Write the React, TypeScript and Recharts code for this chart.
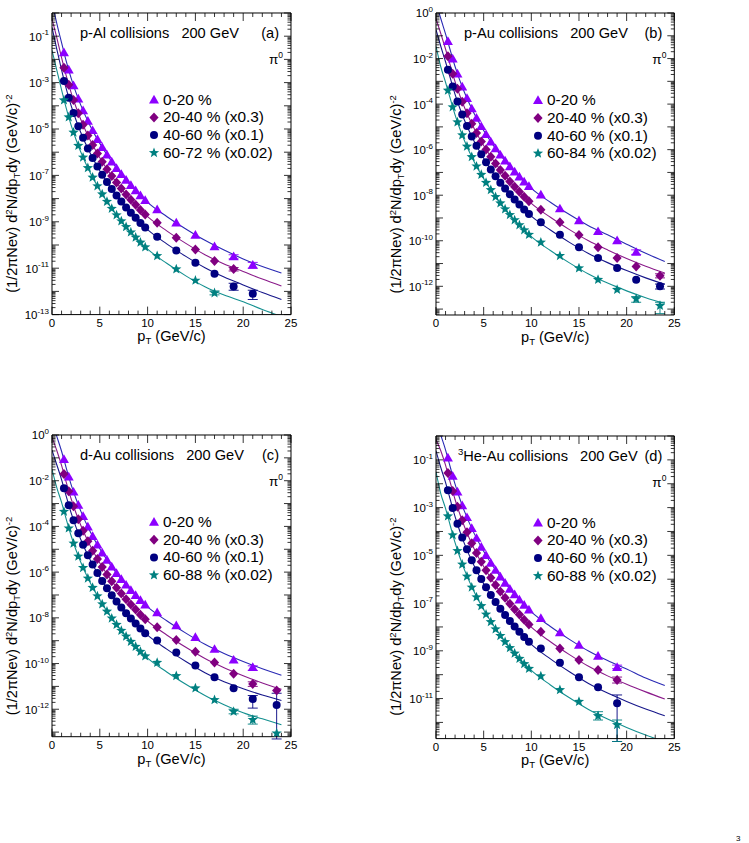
import React from "react";
import { ComposedChart, Line, Scatter, XAxis, YAxis, ErrorBar } from "recharts";

const FONT = '"Liberation Sans", Arial, Helvetica, sans-serif';

// pT bin centres (GeV/c) used by every data set
const PT_BINS = [
  1.25, 1.75, 2.25, 2.75, 3.25, 3.75, 4.25, 4.75, 5.25, 5.75, 6.25, 6.75, 7.25,
  7.75, 8.25, 8.75, 9.25, 9.75, 11, 13, 15, 17, 19, 21, 23.5,
];
// pT nodes of the fitted curves
const FIT_PT = [0, 0.5, 1, 1.5, 2, 2.5, 3, 4, 5, 6, 7, 8, 9, 10, 12, 14, 16, 18, 20, 22, 24];

const X_TICKS = Array.from({ length: 26 }, (_, i) => i);
const EXP_ODD = [-1, -3, -5, -7, -9, -11, -13];
const EXP_EVEN = [0, -2, -4, -6, -8, -10, -12];

// All yields below are log10 of (1/2πNev) d²N/dpTdy, null = no measurement.

// ---- p-Al ----
const pAl_0020 = [-1.70, -2.45, -3.13, -3.70, -4.20, -4.66, -5.06, -5.44, -5.79, -6.11, -6.41, -6.69, -6.95, -7.20, -7.43, -7.65, -7.87, -8.07, -8.47, -9.04, -9.57, -10.07, -10.50, -10.86, null];
const pAl_2040 = [-2.36, -3.09, -3.75, -4.32, -4.82, -5.28, -5.69, -6.06, -6.41, -6.73, -7.03, -7.31, -7.57, -7.82, -8.05, -8.27, -8.49, -8.69, -9.04, -9.69, -10.19, -10.69, -11.04, null, null];
const pAl_4060 = [-2.93, -3.65, -4.31, -4.88, -5.38, -5.84, -6.25, -6.62, -6.97, -7.29, -7.59, -7.87, -8.13, -8.38, -8.61, -8.83, -9.05, -9.25, -9.64, -10.24, -10.76, -11.24, -11.79, -12.10, null];
const pAl_6072 = [-3.76, -4.49, -5.15, -5.72, -6.22, -6.68, -7.09, -7.46, -7.81, -8.13, -8.43, -8.71, -8.97, -9.22, -9.45, -9.67, -9.89, -10.09, -10.47, -11.04, -11.53, -12.07, null, null, null];
const pAl_fit0020 = [0.50, -0.45, -1.28, -2.10, -2.81, -3.42, -3.96, -4.87, -5.62, -6.26, -6.82, -7.32, -7.76, -8.16, -8.77, -9.31, -9.80, -10.22, -10.60, -10.93, -11.21];
const pAl_fit2040 = [-0.25, -1.06, -1.92, -2.72, -3.43, -4.04, -4.58, -5.49, -6.24, -6.88, -7.44, -7.94, -8.38, -8.78, -9.39, -9.93, -10.42, -10.82, -11.14, -11.47, -11.77];
const pAl_fit4060 = [-0.62, -1.56, -2.45, -3.28, -3.99, -4.60, -5.14, -6.05, -6.80, -7.44, -8.00, -8.50, -8.94, -9.34, -9.95, -10.49, -10.98, -11.38, -11.72, -12.05, -12.35];
const pAl_fit6072 = [-1.61, -2.46, -3.31, -4.12, -4.83, -5.44, -5.98, -6.89, -7.64, -8.28, -8.84, -9.34, -9.78, -10.18, -10.79, -11.33, -11.80, -12.16, -12.45, -12.78, -13.08];
// error bars: [pT, low, high] in log10
const pAl_err = [
  [[19, -10.6, -10.42], [21, -11.0, -10.75]],
  [[19, -11.12, -10.97]],
  [[19, -11.95, -11.65], [21, -12.35, -11.95]],
  [[17, -12.15, -11.98]],
];

// ---- p-Au ----
const pAu_0020 = [-1.24, -2.01, -2.67, -3.24, -3.74, -4.20, -4.61, -4.98, -5.33, -5.65, -5.95, -6.23, -6.49, -6.74, -6.97, -7.19, -7.41, -7.61, -7.98, -8.59, -9.11, -9.59, -9.99, -10.50, null];
const pAu_2040 = [-1.90, -2.67, -3.33, -3.90, -4.40, -4.86, -5.27, -5.64, -5.99, -6.31, -6.61, -6.89, -7.15, -7.40, -7.63, -7.85, -8.07, -8.27, -8.64, -9.19, -9.75, -10.28, -10.76, -11.13, -11.54];
const pAu_4060 = [-2.49, -3.23, -3.89, -4.46, -4.96, -5.42, -5.83, -6.20, -6.55, -6.87, -7.17, -7.45, -7.71, -7.96, -8.19, -8.41, -8.63, -8.83, -9.19, -9.74, -10.29, -10.76, -11.20, -11.71, -12.00];
const pAu_6084 = [-3.40, -4.13, -4.79, -5.36, -5.86, -6.32, -6.73, -7.10, -7.45, -7.77, -8.07, -8.35, -8.61, -8.86, -9.09, -9.31, -9.53, -9.73, -10.07, -10.66, -11.20, -11.71, -12.15, -12.55, -12.85];
const pAu_fit0020 = [0.46, -0.24, -0.92, -1.64, -2.35, -2.96, -3.50, -4.41, -5.16, -5.80, -6.36, -6.86, -7.30, -7.70, -8.31, -8.85, -9.34, -9.74, -10.15, -10.55, -10.91];
const pAu_fit2040 = [-0.25, -0.90, -1.58, -2.30, -3.01, -3.62, -4.16, -5.07, -5.82, -6.46, -7.02, -7.52, -7.96, -8.36, -8.97, -9.51, -10.00, -10.40, -10.78, -11.12, -11.42];
const pAu_fit4060 = [-0.73, -1.46, -2.14, -2.86, -3.57, -4.18, -4.72, -5.63, -6.38, -7.02, -7.58, -8.08, -8.52, -8.92, -9.53, -10.07, -10.56, -10.96, -11.31, -11.63, -11.91];
const pAu_fit6084 = [-1.46, -2.36, -3.04, -3.76, -4.47, -5.08, -5.62, -6.53, -7.28, -7.92, -8.48, -8.98, -9.42, -9.82, -10.43, -10.97, -11.46, -11.86, -12.20, -12.50, -12.75];
const pAu_err = [
  [[21, -10.6, -10.4]],
  [[23.5, -11.63, -11.45]],
  [[23.5, -12.12, -11.9]],
  [[21, -12.7, -12.45], [23.5, -13.2, -12.7]],
];

// ---- d-Au ----
const dAu_0020 = [-1.06, -1.83, -2.49, -3.06, -3.56, -4.02, -4.43, -4.80, -5.15, -5.47, -5.77, -6.05, -6.31, -6.56, -6.79, -7.01, -7.23, -7.43, -7.77, -8.34, -8.85, -9.37, -9.84, -10.16, null];
const dAu_2040 = [-1.71, -2.46, -3.12, -3.69, -4.19, -4.65, -5.06, -5.43, -5.78, -6.10, -6.40, -6.68, -6.94, -7.19, -7.42, -7.64, -7.86, -8.06, -8.41, -8.97, -9.48, -9.95, -10.45, -10.89, -11.18];
const dAu_4060 = [-2.33, -3.07, -3.73, -4.30, -4.80, -5.26, -5.67, -6.04, -6.39, -6.71, -7.01, -7.29, -7.55, -7.80, -8.03, -8.25, -8.47, -8.67, -8.99, -9.52, -10.09, -10.60, -11.08, -11.55, -11.81];
const dAu_6088 = [-3.35, -4.08, -4.74, -5.31, -5.81, -6.27, -6.68, -7.05, -7.40, -7.72, -8.02, -8.30, -8.56, -8.81, -9.04, -9.26, -9.48, -9.68, -9.96, -10.54, -11.08, -11.59, -12.10, -12.46, -13.05];
const dAu_fit0020 = [0.59, -0.06, -0.71, -1.46, -2.17, -2.78, -3.32, -4.23, -4.98, -5.62, -6.18, -6.68, -7.12, -7.52, -8.13, -8.67, -9.16, -9.56, -9.91, -10.23, -10.51];
const dAu_fit2040 = [-0.10, -0.68, -1.33, -2.08, -2.79, -3.40, -3.94, -4.85, -5.60, -6.24, -6.80, -7.30, -7.74, -8.14, -8.75, -9.29, -9.78, -10.18, -10.53, -10.85, -11.13];
const dAu_fit4060 = [-0.66, -1.30, -1.95, -2.70, -3.41, -4.02, -4.56, -5.47, -6.22, -6.86, -7.42, -7.92, -8.36, -8.76, -9.37, -9.91, -10.40, -10.80, -11.10, -11.38, -11.62];
const dAu_fit6088 = [-1.50, -2.30, -2.95, -3.70, -4.41, -5.02, -5.56, -6.47, -7.22, -7.86, -8.42, -8.92, -9.36, -9.76, -10.37, -10.91, -11.40, -11.80, -12.15, -12.42, -12.68];
const dAu_err = [
  [[21, -10.3, -10.1]],
  [[21, -11.0, -10.8]],
  [[21, -11.95, -11.4], [23.5, -13.3, -11.3]],
  [[19, -12.2, -12.0], [21, -12.65, -12.3]],
];

// ---- 3He-Au ----
const heAu_0020 = [-0.91, -1.68, -2.34, -2.91, -3.41, -3.87, -4.28, -4.65, -5.00, -5.32, -5.62, -5.90, -6.16, -6.41, -6.64, -6.86, -7.08, -7.28, -7.64, -8.23, -8.76, -9.22, -9.69, null, null];
const heAu_2040 = [-1.55, -2.30, -2.96, -3.53, -4.03, -4.49, -4.90, -5.27, -5.62, -5.94, -6.24, -6.52, -6.78, -7.03, -7.26, -7.48, -7.70, -7.90, -8.20, -8.90, -9.39, -9.80, -10.22, null, null];
const heAu_4060 = [-2.27, -3.02, -3.68, -4.25, -4.75, -5.21, -5.62, -5.99, -6.34, -6.66, -6.96, -7.24, -7.50, -7.75, -7.98, -8.20, -8.42, -8.62, -8.90, -9.50, -10.11, -10.53, -11.20, null, null];
const heAu_6088 = [-3.36, -4.15, -4.81, -5.38, -5.88, -6.34, -6.75, -7.12, -7.47, -7.79, -8.09, -8.37, -8.63, -8.88, -9.11, -9.33, -9.55, -9.75, -10.06, -10.64, -11.13, -11.73, -12.10, null, null];
const heAu_fit0020 = [0.69, 0.04, -0.58, -1.31, -2.02, -2.63, -3.17, -4.08, -4.83, -5.47, -6.03, -6.53, -6.97, -7.37, -7.98, -8.52, -9.01, -9.41, -9.76, -10.14, -10.45];
const heAu_fit2040 = [-0.15, -0.62, -1.22, -1.95, -2.66, -3.27, -3.81, -4.72, -5.47, -6.11, -6.67, -7.17, -7.61, -8.01, -8.62, -9.16, -9.65, -10.05, -10.40, -10.72, -11.02];
const heAu_fit4060 = [-0.62, -1.32, -1.94, -2.67, -3.38, -3.99, -4.53, -5.44, -6.19, -6.83, -7.39, -7.89, -8.33, -8.73, -9.34, -9.88, -10.37, -10.77, -11.12, -11.44, -11.72];
const heAu_fit6088 = [-1.50, -2.41, -3.03, -3.76, -4.47, -5.08, -5.62, -6.53, -7.28, -7.92, -8.48, -8.98, -9.42, -9.82, -10.43, -10.97, -11.46, -11.86, -12.21, -12.53, -12.81];
const heAu_err = [
  [[19, -9.75, -9.6]],
  [[19, -10.35, -10.1]],
  [[19, -12.8, -10.85]],
  [[17, -11.9, -11.55], [19, -12.8, -11.9]],
];

const CLASSES_AL = ["0-20 %", "20-40 % (x0.3)", "40-60 % (x0.1)", "60-72 % (x0.02)"];
const CLASSES_PAU = ["0-20 %", "20-40 % (x0.3)", "40-60 % (x0.1)", "60-84 % (x0.02)"];
const CLASSES_AU = ["0-20 %", "20-40 % (x0.3)", "40-60 % (x0.1)", "60-88 % (x0.02)"];

const MARKERS = ["tri", "dia", "circ", "star"];
const MARK_COLORS = ["#8c00ff", "#800080", "#000080", "#008080"];
const FIT_COLORS = ["#2a2ab4", "#8a1a8a", "#16168a", "#149090"];

type Panel = {
  L: number; T: number; R: number; B: number;
  yMin: number;
  exps: number[];
  title: string;
  titleSup?: string;
  tag: string;
  classes: string[];
  points: (number | null)[][];
  fits: number[][];
  errors: number[][][];
};

const PANELS: Panel[] = [
  {
    L: 52, T: 12.7, R: 291, B: 314.3, yMin: 1e-13, exps: EXP_ODD,
    title: "p-Al collisions   200 GeV", tag: "(a)", classes: CLASSES_AL,
    points: [pAl_0020, pAl_2040, pAl_4060, pAl_6072],
    fits: [pAl_fit0020, pAl_fit2040, pAl_fit4060, pAl_fit6072],
    errors: pAl_err,
  },
  {
    L: 436, T: 13.3, R: 674.3, B: 315.3, yMin: 5.5e-14, exps: EXP_EVEN,
    title: "p-Au collisions   200 GeV", tag: "(b)", classes: CLASSES_PAU,
    points: [pAu_0020, pAu_2040, pAu_4060, pAu_6084],
    fits: [pAu_fit0020, pAu_fit2040, pAu_fit4060, pAu_fit6084],
    errors: pAu_err,
  },
  {
    L: 52, T: 435, R: 291, B: 736.7, yMin: 6.3e-14, exps: EXP_EVEN,
    title: "d-Au collisions   200 GeV", tag: "(c)", classes: CLASSES_AU,
    points: [dAu_0020, dAu_2040, dAu_4060, dAu_6088],
    fits: [dAu_fit0020, dAu_fit2040, dAu_fit4060, dAu_fit6088],
    errors: dAu_err,
  },
  {
    L: 436, T: 435.7, R: 674.3, B: 738.3, yMin: 2.1e-13, exps: EXP_ODD,
    title: "He-Au collisions   200 GeV", titleSup: "3", tag: "(d)", classes: CLASSES_AU,
    points: [heAu_0020, heAu_2040, heAu_4060, heAu_6088],
    fits: [heAu_fit0020, heAu_fit2040, heAu_fit4060, heAu_fit6088],
    errors: heAu_err,
  },
];

function logTicks(yMin: number) {
  const out: number[] = [];
  for (let n = Math.floor(Math.log10(yMin)); n <= 0; n++) {
    for (let k = 1; k <= 9; k++) {
      const v = Number((k * Math.pow(10, n)).toPrecision(8));
      if (v >= yMin && v <= 1) out.push(v);
    }
  }
  return out;
}

function Marker({ kind, cx, cy, color }: { kind: string; cx: number; cy: number; color: string }) {
  if (cx == null || cy == null) return null;
  if (kind === "tri") {
    return <polygon points={`${cx},${cy - 5} ${cx + 5},${cy + 3.7} ${cx - 5},${cy + 3.7}`} fill={color} />;
  }
  if (kind === "dia") {
    return <polygon points={`${cx},${cy - 5} ${cx + 4.6},${cy} ${cx},${cy + 5} ${cx - 4.6},${cy}`} fill={color} />;
  }
  if (kind === "circ") {
    return <circle cx={cx} cy={cy} r={4} fill={color} />;
  }
  const pts: string[] = [];
  for (let i = 0; i < 10; i++) {
    const r = i % 2 === 0 ? 5.4 : 2.3;
    const a = (-90 + i * 36) * (Math.PI / 180);
    pts.push(`${cx + r * Math.cos(a)},${cy + r * Math.sin(a)}`);
  }
  return <polygon points={pts.join(" ")} fill={color} />;
}

function isDecade(v: number) {
  const e = Math.log10(v);
  return Math.abs(e - Math.round(e)) < 1e-6;
}

function YTick(props: any) {
  const { x, y, payload, side, exps } = props;
  const v = payload.value;
  const major = isDecade(v);
  const len = major ? 7 : 3.5;
  const dir = side === "left" ? 1 : -1;
  const exp = Math.round(Math.log10(v));
  return (
    <g>
      <line x1={x} y1={y} x2={x + dir * len} y2={y} stroke="#000" strokeWidth={0.8} />
      {side === "left" && major && exps.includes(exp) && (
        <text x={x - 3} y={y + 4.5} textAnchor="end" fontSize={11.5} fontFamily={FONT} fill="#000">
          10<tspan dy={-5.5} fontSize={8}>{String(exp)}</tspan>
        </text>
      )}
    </g>
  );
}

function XTick(props: any) {
  const { x, y, payload, side } = props;
  const v = payload.value;
  const major = v % 5 === 0;
  const len = major ? 8 : 4;
  const dir = side === "bottom" ? -1 : 1;
  return (
    <g>
      <line x1={x} y1={y} x2={x} y2={y + dir * len} stroke="#000" strokeWidth={0.8} />
      {side === "bottom" && major && (
        <text x={x} y={y + 12.5} textAnchor="middle" fontSize={11.5} fontFamily={FONT} fill="#000">
          {String(v)}
        </text>
      )}
    </g>
  );
}

const ML = 62;
const MT = 10;
const MR = 12;
const MB = 30;

function SpectraPanel({ p }: { p: Panel }) {
  const pw = p.R - p.L;
  const ph = p.B - p.T;
  const yTicks = logTicks(p.yMin);
  const axisLine = { stroke: "#000", strokeWidth: 1 };

  const fitData = p.fits.map((f) => FIT_PT.map((x, i) => ({ x, y: Math.pow(10, f[i]) })));
  const pointData = p.points.map((s, si) =>
    PT_BINS.flatMap((x, i) => {
      const v = s[i];
      if (v == null) return [];
      const y = Math.pow(10, v);
      const e = p.errors[si].find((r) => r[0] === x);
      return [{ x, y, err: e ? [y - Math.pow(10, e[1]), Math.pow(10, e[2]) - y] : undefined }];
    })
  );

  return (
    <div style={{ position: "absolute", left: p.L - ML, top: p.T - MT }}>
      <ComposedChart width={ML + pw + MR} height={MT + ph + MB} margin={{ top: MT, left: ML, right: MR, bottom: MB }}>
        <XAxis xAxisId="b" type="number" dataKey="x" domain={[0, 25]} ticks={X_TICKS} interval={0}
          allowDataOverflow mirror tickSize={0} tickMargin={0} tickLine={false} axisLine={axisLine}
          tick={<XTick side="bottom" />} />
        <XAxis xAxisId="t" orientation="top" type="number" dataKey="x" domain={[0, 25]} ticks={X_TICKS} interval={0}
          allowDataOverflow mirror tickSize={0} tickMargin={0} tickLine={false} axisLine={axisLine}
          tick={<XTick side="top" />} />
        <YAxis yAxisId="l" type="number" scale="log" domain={[p.yMin, 1]} ticks={yTicks} interval={0}
          allowDataOverflow mirror tickSize={0} tickMargin={0} tickLine={false} axisLine={axisLine}
          tick={<YTick side="left" exps={p.exps} />} />
        <YAxis yAxisId="r" orientation="right" type="number" scale="log" domain={[p.yMin, 1]} ticks={yTicks} interval={0}
          allowDataOverflow mirror tickSize={0} tickMargin={0} tickLine={false} axisLine={axisLine}
          tick={<YTick side="right" exps={p.exps} />} />
        {fitData.map((d, i) => (
          <Line key={`fit${i}`} xAxisId="b" yAxisId="l" data={d} dataKey="y" type="monotone"
            stroke={FIT_COLORS[i]} strokeWidth={1.1} dot={false} activeDot={false} isAnimationActive={false} />
        ))}
        {pointData.map((d, i) => (
          <Scatter key={`pts${i}`} xAxisId="b" yAxisId="l" data={d} dataKey="y" isAnimationActive={false}
            shape={(s: any) => <Marker kind={MARKERS[i]} cx={s.cx} cy={s.cy} color={MARK_COLORS[i]} />}>
            <ErrorBar dataKey="err" direction="y" width={5} strokeWidth={0.9} stroke={MARK_COLORS[i]} />
          </Scatter>
        ))}
      </ComposedChart>
    </div>
  );
}

function PanelText({ p }: { p: Panel }) {
  const { L, T, R, B } = p;
  const txt = { fontFamily: FONT, fill: "#000" } as const;
  const rowY = (i: number) => T + 87 + i * 17.7;
  const ytX = L - 35;
  const ytY = T + 181;
  return (
    <g>
      <text x={p.titleSup ? L + 22 : L + 28} y={T + 25} fontSize={14.6} style={{ whiteSpace: "pre" }} {...txt}>
        {p.titleSup && <tspan fontSize={9.5} dy={-6}>{p.titleSup}</tspan>}
        {p.titleSup ? <tspan dy={6}>{p.title}</tspan> : p.title}
      </text>
      <text x={R - 12} y={T + 25} fontSize={14.6} textAnchor="end" {...txt}>{p.tag}</text>
      <text x={R - 22} y={T + 51} fontSize={13.5} {...txt}>
        π<tspan dy={-6} fontSize={8.5}>0</tspan>
      </text>
      {p.classes.map((c, i) => (
        <g key={c}>
          <Marker kind={MARKERS[i]} cx={L + 102} cy={rowY(i)} color={MARK_COLORS[i]} />
          <text x={L + 111} y={rowY(i) + 5} fontSize={15.4} {...txt}>{c}</text>
        </g>
      ))}
      <text x={(L + R) / 2} y={B + 27} fontSize={14.6} textAnchor="middle" {...txt}>
        p<tspan dy={3} fontSize={9.5}>T</tspan><tspan dy={-3}> (GeV/c)</tspan>
      </text>
      <text x={ytX} y={ytY} fontSize={14.6} textAnchor="middle" transform={`rotate(-90 ${ytX} ${ytY})`} {...txt}>
        (1/2πNev) d<tspan dy={-5} fontSize={9.5}>2</tspan>
        <tspan dy={5}>N/dp</tspan>
        <tspan dy={3} fontSize={9.5}>T</tspan>
        <tspan dy={-3}>dy (GeV/c)</tspan>
        <tspan dy={-5} fontSize={9.5}>-2</tspan>
      </text>
    </g>
  );
}

export default function App() {
  return (
    <div style={{ position: "absolute", left: 0, top: 0, width: 749, height: 843, background: "#fff", overflow: "hidden" }}>
      {PANELS.map((p) => (
        <SpectraPanel key={p.tag} p={p} />
      ))}
      <svg width={749} height={843} style={{ position: "absolute", left: 0, top: 0, pointerEvents: "none" }}>
        {PANELS.map((p) => (
          <PanelText key={p.tag} p={p} />
        ))}
        <text x={736} y={841} fontSize={8} fontFamily={FONT}>3</text>
      </svg>
    </div>
  );
}
